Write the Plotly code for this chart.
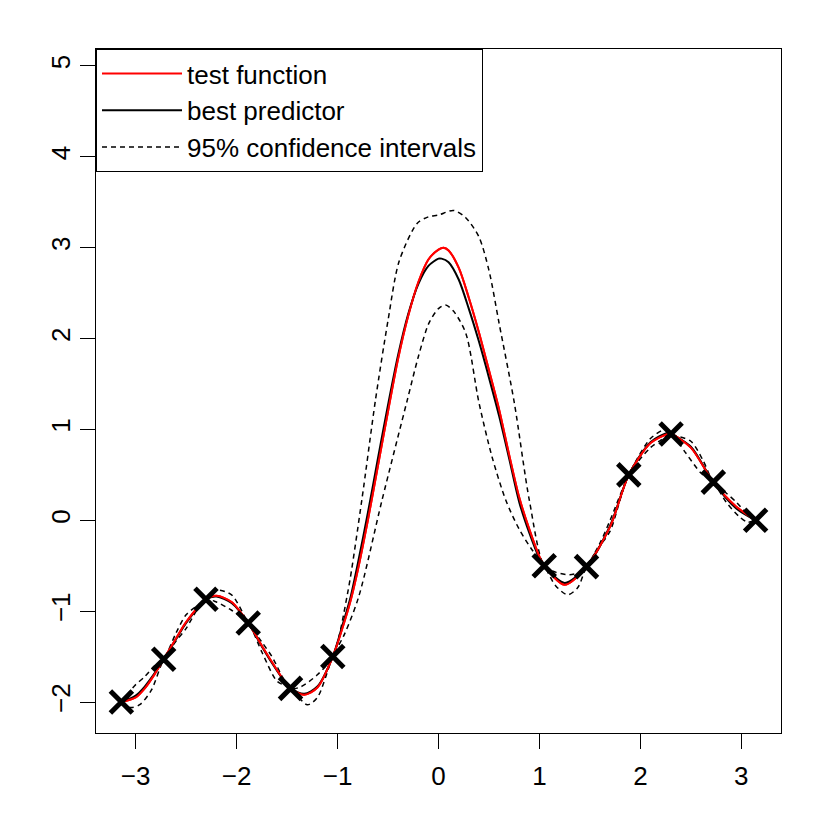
import plotly.graph_objects as go

# observations (crosses)
obs_x = [-3.1416, -2.7227, -2.3038, -1.8850, -1.4661, -1.0472, 1.0472, 1.4661, 1.8850, 2.3038, 2.7227, 3.1416]
obs_y = [-2.00, -1.53, -0.87, -1.13, -1.85, -1.50, -0.50, -0.51, 0.50, 0.95, 0.42, 0.00]

# test function (red)
test_x = [-3.1416, -3.00, -2.91, -2.81, -2.7227, -2.60, -2.50, -2.3038, -2.20, -2.05, -1.885, -1.75, -1.65,
          -1.4661, -1.33, -1.20, -1.0472, -0.95, -0.87, -0.80, -0.70, -0.60, -0.50, -0.40, -0.30, -0.20,
          -0.10, 0.00, 0.05, 0.10, 0.20, 0.30, 0.40, 0.50, 0.60, 0.70, 0.80, 0.90, 1.00,
          1.0472, 1.25, 1.4661, 1.70, 1.885, 2.10, 2.27, 2.3038, 2.50, 2.7227, 2.95, 3.1416]
test_y = [-2.00, -1.95, -1.85, -1.69, -1.53, -1.30, -1.12, -0.87, -0.83, -0.90, -1.13, -1.38, -1.56,
          -1.85, -1.92, -1.84, -1.50, -1.18, -0.88, -0.55, 0.00, 0.60, 1.20, 1.78, 2.25, 2.62,
          2.87, 2.98, 3.00, 2.97, 2.78, 2.45, 2.07, 1.65, 1.22, 0.72, 0.25, -0.10, -0.40,
          -0.50, -0.71, -0.51, -0.07, 0.50, 0.85, 0.95, 0.95, 0.80, 0.42, 0.15, 0.00]

# best predictor (black)
pred_x = [-3.1416, -3.00, -2.91, -2.81, -2.7227, -2.60, -2.50, -2.3038, -2.20, -2.05, -1.885, -1.75, -1.65,
          -1.4661, -1.33, -1.20, -1.0472, -0.95, -0.87, -0.80, -0.70, -0.60, -0.50, -0.40, -0.30, -0.20,
          -0.10, 0.00, 0.03, 0.10, 0.20, 0.30, 0.40, 0.50, 0.60, 0.70, 0.80, 0.90, 1.00,
          1.0472, 1.25, 1.4661, 1.70, 1.885, 2.10, 2.27, 2.3038, 2.50, 2.7227, 2.95, 3.1416]
pred_y = [-2.00, -1.93, -1.83, -1.68, -1.53, -1.31, -1.13, -0.87, -0.84, -0.91, -1.13, -1.39, -1.57,
          -1.85, -1.91, -1.83, -1.50, -1.15, -0.84, -0.48, 0.08, 0.68, 1.27, 1.82, 2.27, 2.60,
          2.80, 2.88, 2.88, 2.84, 2.65, 2.33, 1.97, 1.57, 1.15, 0.68, 0.20, -0.14, -0.42,
          -0.50, -0.69, -0.51, -0.06, 0.50, 0.86, 0.96, 0.95, 0.81, 0.42, 0.13, 0.00]

# 95% confidence bounds (dashed)
upper_x = [-3.1416, -3.01, -2.91, -2.81, -2.7227, -2.60, -2.50, -2.3038, -2.20, -2.05, -1.885, -1.75, -1.65,
           -1.4661, -1.36, -1.20, -1.0472, -0.90, -0.76, -0.625, -0.50, -0.39, -0.21, -0.10, 0.00, 0.15,
           0.27, 0.40, 0.50, 0.60, 0.75, 0.90, 1.0472, 1.16, 1.30, 1.40, 1.4661, 1.60, 1.70, 1.885, 2.10,
           2.25, 2.3038, 2.50, 2.62, 2.7227, 2.85, 2.95, 3.05, 3.1416]
upper_y = [-2.00, -1.82, -1.72, -1.60, -1.53, -1.24, -1.04, -0.87, -0.77, -0.82, -1.13, -1.34, -1.50,
           -1.85, -1.83, -1.70, -1.50, -0.80, 0.22, 1.32, 2.20, 2.85, 3.27, 3.34, 3.36, 3.41,
           3.33, 3.12, 2.75, 2.17, 1.30, 0.22, -0.50, -0.57, -0.60, -0.57, -0.51, -0.25, 0.00, 0.50, 0.90,
           1.00, 0.95, 0.87, 0.66, 0.42, 0.30, 0.20, 0.08, 0.00]
lower_x = [-3.1416, -3.05, -2.96, -2.845, -2.7227, -2.60, -2.50, -2.40, -2.3038, -2.20, -2.05, -1.885, -1.75,
           -1.60, -1.4661, -1.30, -1.20, -1.0472, -0.93, -0.79, -0.56, -0.31, -0.20, -0.095, 0.00, 0.07,
           0.15, 0.27, 0.40, 0.53, 0.667, 0.80, 0.93, 1.0472, 1.16, 1.28, 1.38, 1.4661, 1.60, 1.70, 1.885,
           2.10, 2.20, 2.3038, 2.45, 2.60, 2.7227, 2.85, 2.98, 3.06, 3.1416]
lower_y = [-2.00, -2.06, -2.03, -1.87, -1.53, -1.33, -1.19, -1.00, -0.87, -0.90, -0.99, -1.13, -1.45,
           -1.77, -1.85, -2.03, -1.95, -1.50, -1.25, -0.84, 0.22, 1.32, 1.80, 2.17, 2.33, 2.37,
           2.30, 2.06, 1.30, 0.70, 0.22, -0.10, -0.33, -0.50, -0.72, -0.82, -0.74, -0.51, -0.28, -0.12, 0.50,
           0.80, 0.88, 0.95, 0.74, 0.52, 0.42, 0.20, 0.04, -0.02, 0.00]

x_ticks = [-3, -2, -1, 0, 1, 2, 3]
y_ticks = [-2, -1, 0, 1, 2, 3, 4, 5]

font_family = "Liberation Sans, Arial, sans-serif"
dash_style = "5px,4px"

fig = go.Figure()

fig.add_trace(go.Scatter(x=test_x, y=test_y, mode='lines', name='test function',
                         line=dict(color='#ff0000', width=2, shape='spline', smoothing=0.8)))
fig.add_trace(go.Scatter(x=pred_x, y=pred_y, mode='lines', name='best predictor',
                         line=dict(color='black', width=2, shape='spline', smoothing=0.8)))
fig.add_trace(go.Scatter(x=upper_x, y=upper_y, mode='lines', name='95% confidence intervals', legendgroup='ci',
                         line=dict(color='black', width=1.5, dash=dash_style, shape='spline', smoothing=0.8)))
fig.add_trace(go.Scatter(x=lower_x, y=lower_y, mode='lines', name='95% confidence intervals', legendgroup='ci',
                         showlegend=False,
                         line=dict(color='black', width=1.5, dash=dash_style, shape='spline', smoothing=0.8)))
# red redrawn on top of the black predictor, as in the original
fig.add_trace(go.Scatter(x=test_x, y=test_y, mode='lines', showlegend=False, hoverinfo='skip',
                         line=dict(color='#ff0000', width=2, shape='spline', smoothing=0.8)))
fig.add_trace(go.Scatter(x=obs_x, y=obs_y, mode='markers', showlegend=False,
                         marker=dict(symbol='x-thin', size=22, line=dict(color='black', width=5))))

axis_common = dict(showgrid=False, zeroline=False, showline=True, linecolor='black', linewidth=1, mirror=True,
                   ticks='outside', ticklen=15, tickcolor='black', tickwidth=1,
                   tickfont=dict(family=font_family, size=26, color='black'))

# page body has an 8px margin, so the figure is offset by it
fig.update_layout(
    width=814, height=814,
    margin=dict(l=88, r=41, t=41, b=89),
    paper_bgcolor='white', plot_bgcolor='white',
    font=dict(family=font_family, size=26, color='black'),
    xaxis=dict(range=[-3.393, 3.393], tickvals=x_ticks, ticklabelstandoff=5, **axis_common),
    yaxis=dict(range=[-2.341, 5.187], tickvals=y_ticks, tickangle=-90, ticklabelstandoff=0, **axis_common),
    legend=dict(x=0, y=1, xanchor='left', yanchor='top', bgcolor='white', bordercolor='black', borderwidth=1,
                font=dict(family=font_family, size=26, color='black'), tracegroupgap=0, itemwidth=80),
    showlegend=True,
)

fig.write_html("out.html")
